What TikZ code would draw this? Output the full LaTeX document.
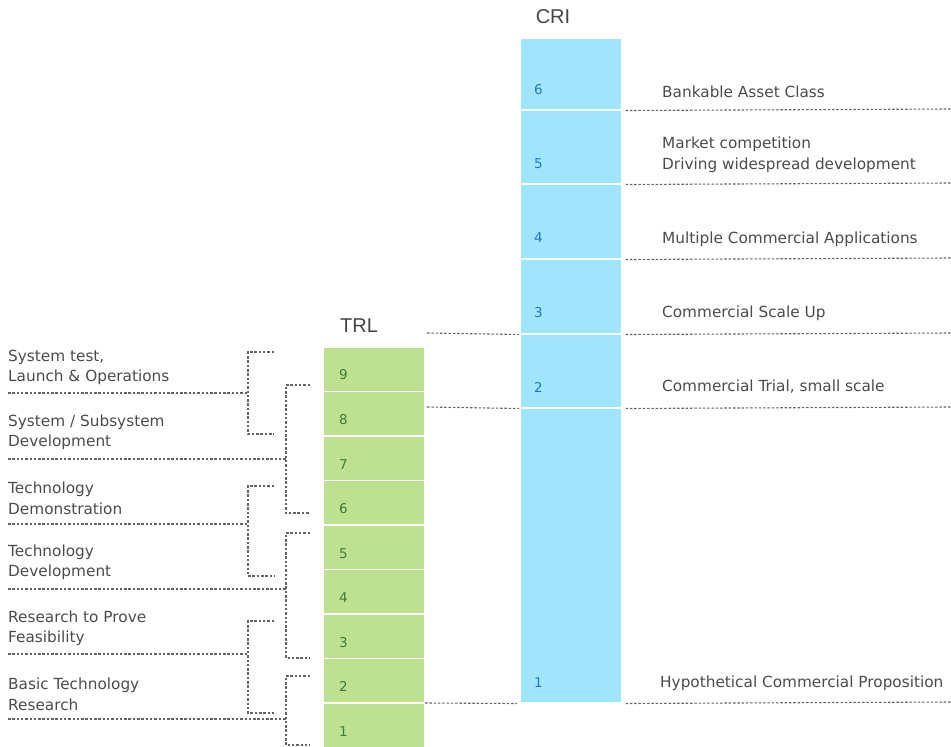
\documentclass[tikz,border=0pt]{standalone}
\usepackage{fontspec}
\setmainfont{DejaVu Sans}
\newfontfamily\headfont{Liberation Sans}
\definecolor{trlgreen}{RGB}{190,225,145}
\definecolor{criblue}{RGB}{160,229,252}
\definecolor{trlnum}{RGB}{60,125,60}
\definecolor{crinum}{RGB}{35,120,190}
\definecolor{txtgray}{RGB}{75,75,75}
\definecolor{dashgray}{RGB}{100,100,100}
\begin{document}
\begin{tikzpicture}[x=1pt,y=-1pt,
  trlcell/.style={fill=trlgreen,draw=white,line width=1.5pt,minimum width=102pt,inner sep=0pt,anchor=north west},
  cricell/.style={fill=criblue,draw=white,line width=1.5pt,minimum width=102pt,inner sep=0pt,anchor=north west},
  trlnumber/.style={text=trlnum,font=\fontsize{13.5}{15}\selectfont,anchor=west,inner sep=0pt},
  crinumber/.style={text=crinum,font=\fontsize{13.5}{15}\selectfont,anchor=west,inner sep=0pt},
  lbl/.style={text=txtgray,font=\fontsize{15.3}{20.5}\selectfont,anchor=west,align=left,inner sep=0pt},
  head/.style={text=txtgray!90!black,font=\headfont\fontsize{20}{22}\selectfont,inner sep=0pt},
  dl/.style={draw=dashgray,line width=1.1pt,dash pattern=on 2.5pt off 1.8pt}]
\useasboundingbox (0,0) rectangle (951,747);
% TRL column
\foreach \i in {1,...,9}{
  \pgfmathsetmacro\tp{346+(9-\i)*44.56}
  \node[trlcell,minimum height=44.56pt] (t\i) at (322,\tp) {};
  \node[trlnumber] (tn\i) at (339,\tp+29) {\i};
}
% CRI column
\node[cricell,minimum height=295pt] (c1) at (519,407) {};
\node[cricell,minimum height=74pt] (c2) at (519,333) {};
\node[cricell,minimum height=75pt] (c3) at (519,258) {};
\node[cricell,minimum height=75pt] (c4) at (519,183) {};
\node[cricell,minimum height=74pt] (c5) at (519,109) {};
\node[cricell,minimum height=72pt] (c6) at (519,37) {};
\node[crinumber] (cn1) at (534,683) {1};
\node[crinumber] (cn2) at (534,387) {2};
\node[crinumber] (cn3) at (534,313) {3};
\node[crinumber] (cn4) at (534,238) {4};
\node[crinumber] (cn5) at (534,164) {5};
\node[crinumber] (cn6) at (534,90) {6};
% headings
\node[head] (cri) at (553,17) {CRI};
\node[head] (trl) at (359,326) {TRL};
% right labels
\node[lbl] (r6) at (662,92) {Bankable Asset Class};
\node[lbl] (r5) at (662,155) {Market competition\\Driving widespread development};
\node[lbl] (r4) at (662,239) {Multiple Commercial Applications};
\node[lbl] (r3) at (662,313) {Commercial Scale Up};
\node[lbl] (r2) at (662,387) {Commercial Trial, small scale};
\node[lbl] (r1) at (660,683) {Hypothetical Commercial Proposition};
% right dashed lines
\coordinate (e6) at (951,109);
\coordinate (e5) at (951,183);
\coordinate (e4) at (951,258);
\coordinate (e3) at (951,333);
\coordinate (e2) at (951,407);
\coordinate (e1) at (951,702);
\draw[dl] (c6.south east) ++(3,0) -- (e6);
\draw[dl] (c5.south east) ++(3,0) -- (e5);
\draw[dl] (c4.south east) ++(3,0) -- (e4);
\draw[dl] (c3.south east) ++(3,0) -- (e3);
\draw[dl] (c2.south east) ++(3,0) -- (e2);
\draw[dl] (c1.south east) ++(3,0) -- (e1);
% TRL to CRI links
\coordinate (m3) at (427,333);
\coordinate (m2) at (427,407);
\coordinate (m1) at (425,703);
\draw[dl] (m3) -- (c3.south west);
\draw[dl] (m2) -- (c2.south west);
\draw[dl] (m1) -- ([xshift=-2pt]c1.south west);
% left labels
\node[lbl] (l9) at (8,367.5) {System test,\\Launch \& Operations};
\node[lbl] (l7) at (8,432.5) {System / Subsystem\\Development};
\node[lbl] (l6) at (8,498.5) {Technology\\Demonstration};
\node[lbl] (l4) at (8,562.5) {Technology\\Development};
\node[lbl] (l3) at (8,628.5) {Research to Prove\\Feasibility};
\node[lbl] (l1) at (8,694.5) {Basic Technology\\Research};
% inner brackets
\coordinate (a1t) at (274,352); \coordinate (a1b) at (274,434);
\coordinate (a2t) at (274,486); \coordinate (a2b) at (274,576);
\coordinate (a3t) at (274,621); \coordinate (a3b) at (274,713);
\foreach \k in {1,2,3}{
  \draw[dl] (a\k t) -| (248,0 |- a\k b) -- (a\k b);
}
% outer brackets
\coordinate (b1t) at (310,385); \coordinate (b1b) at (310,513);
\coordinate (b2t) at (310,533); \coordinate (b2b) at (310,658);
\coordinate (b3t) at (310,676); \coordinate (b3b) at (310,745);
\foreach \k in {1,2,3}{
  \draw[dl] (b\k t) -| (286,0 |- b\k b) -- (b\k b);
}
% label underlines
\coordinate (j9) at (248,393);
\coordinate (j7) at (286,459);
\coordinate (j6) at (248,524);
\coordinate (j4) at (286,589);
\coordinate (j3) at (248,654);
\coordinate (j1) at (286,719);
\draw[dl] (8,393) -- (j9);
\draw[dl] (8,459) -- (j7);
\draw[dl] (8,524) -- (j6);
\draw[dl] (8,589) -- (j4);
\draw[dl] (8,654) -- (j3);
\draw[dl] (8,719) -- (j1);
\end{tikzpicture}
\end{document}
